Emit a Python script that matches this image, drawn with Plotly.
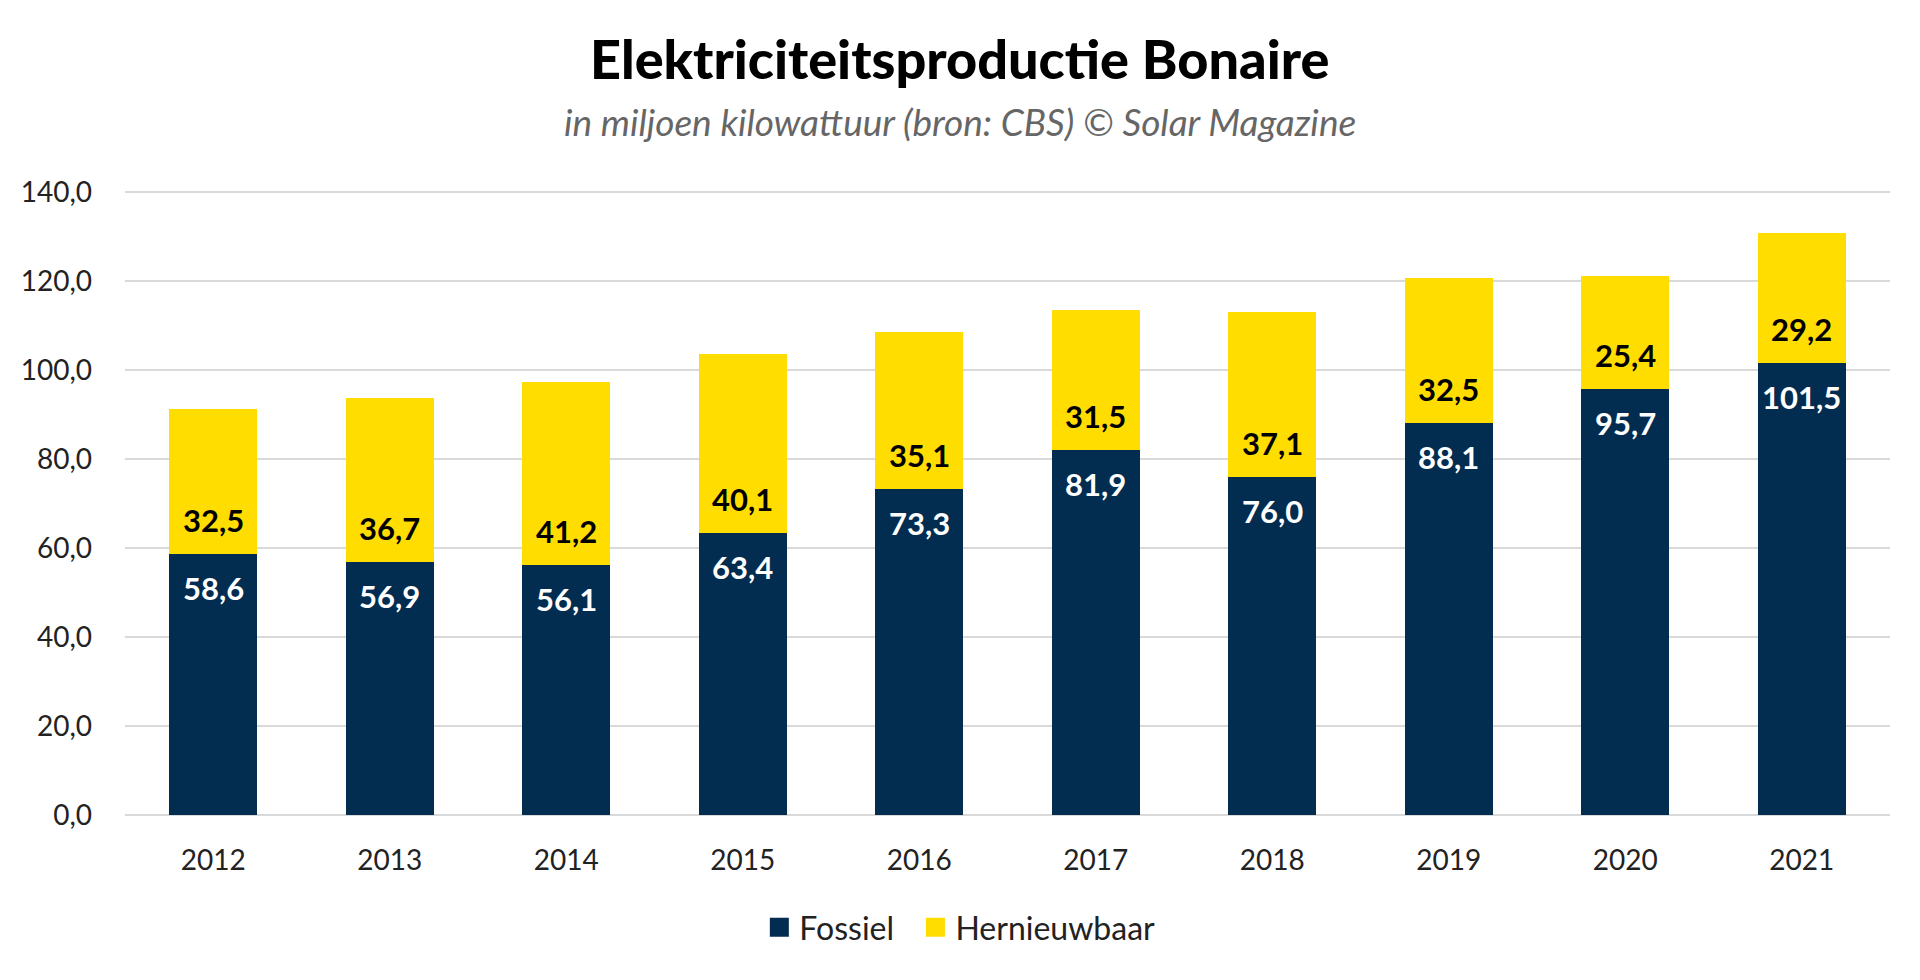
import plotly.graph_objects as go

# data (miljoen kWh, bron: CBS)
jaren = ['2012', '2013', '2014', '2015', '2016', '2017', '2018', '2019', '2020', '2021']
fossiel = [58.6, 56.9, 56.1, 63.4, 73.3, 81.9, 76.0, 88.1, 95.7, 101.5]
hernieuwbaar = [32.5, 36.7, 41.2, 40.1, 35.1, 31.5, 37.1, 32.5, 25.4, 29.2]

navy = '#022D51'
geel = '#FFDD00'
font_family = 'Lato, "Noto Sans", sans-serif'
page_mid = 0.473  # page centre expressed in plot-area (paper) fraction


def nl(v):
    return f"{v:.1f}".replace('.', ',')


fig = go.Figure()
fig.add_trace(go.Bar(x=jaren, y=fossiel, name='Fossiel', marker_color=navy,
                     marker_line_width=0, showlegend=False))
fig.add_trace(go.Bar(x=jaren, y=hernieuwbaar, name='Hernieuwbaar', marker_color=geel,
                     marker_line_width=0, showlegend=False))

# legend entries with larger square swatches
for naam, kleur in [('Fossiel&nbsp;&nbsp;', navy), ('Hernieuwbaar', geel)]:
    fig.add_trace(go.Scatter(x=[None], y=[None], mode='markers', name=naam,
                             marker=dict(symbol='square', size=20, color=kleur,
                                         line=dict(width=3, color=kleur))))

# value labels: fossiel just below top of navy segment, hernieuwbaar just above base of yellow
# (x as category index, since numeric-looking strings are read as indices on a category axis)
annotations = []
for i, (f, h) in enumerate(zip(fossiel, hernieuwbaar)):
    annotations.append(dict(x=i, y=f, text=f"<b>{nl(f)}</b>", showarrow=False, yshift=-34,
                            font=dict(color='white', size=31, family=font_family)))
    annotations.append(dict(x=i, y=f, text=f"<b>{nl(h)}</b>", showarrow=False, yshift=34,
                            font=dict(color='black', size=31, family=font_family)))

annotations.append(dict(x=page_mid, y=1.211, xref='paper', yref='paper', showarrow=False,
                        yanchor='middle', text='Elektriciteitsproductie Bonaire',
                        font=dict(size=54, color='black', family=font_family, weight=900)))
annotations.append(dict(x=page_mid, y=1.109, xref='paper', yref='paper', showarrow=False,
                        yanchor='middle',
                        text='<i>in miljoen kilowattuur (bron: CBS) © Solar Magazine</i>',
                        font=dict(size=37, color='#666666', family=font_family)))

fig.update_layout(
    barmode='stack',
    bargap=0.5,
    width=1920,
    height=980,
    margin=dict(l=117, r=38, t=182, b=173),
    plot_bgcolor='white',
    paper_bgcolor='white',
    separators=',.',
    font=dict(family=font_family, size=28, color='#222222'),
    annotations=annotations,
    xaxis=dict(type='category', range=[-0.5, len(jaren) - 0.5], showgrid=False, showline=False,
               ticks='', ticklabelstandoff=26, tickfont=dict(size=28, color='#222222')),
    yaxis=dict(range=[0, 140.4], tickvals=[0, 20, 40, 60, 80, 100, 120, 140], tickformat='.1f',
               showgrid=True, gridcolor='#d9d9d9', gridwidth=2, zeroline=True,
               zerolinecolor='#d9d9d9', zerolinewidth=2, ticks='', ticklabelstandoff=32,
               tickfont=dict(size=28, color='#222222')),
    legend=dict(orientation='h', x=page_mid, xanchor='center', y=-0.18, yanchor='middle',
                font=dict(size=32, color='#222222'), traceorder='normal', itemsizing='trace'),
)

fig.write_html("out.html")
